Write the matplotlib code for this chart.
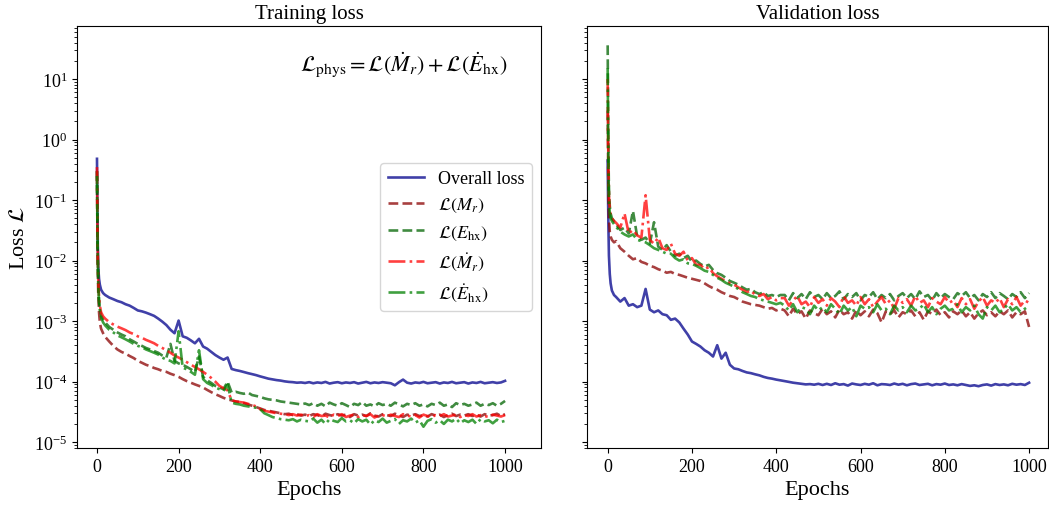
import matplotlib
matplotlib.use("Agg")
import matplotlib.pyplot as plt

plt.rcParams['font.family'] = ['Liberation Serif', 'DejaVu Serif']
plt.rcParams['mathtext.fontset'] = 'stix'

EPOCHS = [0, 1, 2, 3, 5, 7, 10, 15] + list(range(20, 1001, 10))

# ---- training losses ----
train_overall = [
    0.48, 0.06, 0.018, 8e-3, 5e-3, 4e-3, 3.3e-3, 2.9e-3,
    2.7e-3, 2.45e-3, 2.3e-3, 2.15e-3, 2.05e-3, 1.9e-3, 1.8e-3, 1.65e-3, 1.5e-3, 1.45e-3,
    1.38e-3, 1.3e-3, 1.22e-3, 1.1e-3, 9.8e-4, 8.6e-4, 7.2e-4, 6.3e-4, 1.02e-3, 5.6e-4,
    5.3e-4, 4.8e-4, 4.3e-4, 5.1e-4, 3.8e-4, 3.5e-4, 3.1e-4, 2.75e-4, 2.5e-4, 2.3e-4,
    2.5e-4, 1.62e-4, 1.55e-4, 1.5e-4, 1.44e-4, 1.38e-4, 1.33e-4, 1.28e-4, 1.22e-4, 1.17e-4,
    1.12e-4, 1.09e-4, 1.06e-4, 1.04e-4, 1.01e-4, 9.9e-5, 9.8e-5, 9.6e-5, 9.7e-5, 9.5e-5,
    9.8e-5, 9.4e-5, 9.7e-5, 9.5e-5, 9.9e-5, 9.3e-5, 9.6e-5, 9.8e-5, 9.4e-5, 9.7e-5,
    9.5e-5, 9.8e-5, 9.3e-5, 9.6e-5, 9.9e-5, 9.4e-5, 9.7e-5, 9.5e-5, 9.8e-5, 9.6e-5,
    9.4e-5, 8.7e-5, 9.8e-5, 1.08e-4, 9.6e-5, 9.3e-5, 9.7e-5, 9.5e-5, 9.9e-5, 9.4e-5,
    9.6e-5, 9.8e-5, 9.3e-5, 9.7e-5, 9.5e-5, 9.9e-5, 9.4e-5, 9.6e-5, 9.8e-5, 9.3e-5,
    9.7e-5, 9.5e-5, 9.9e-5, 9.4e-5, 9.6e-5, 9.8e-5, 9.5e-5, 9.7e-5, 1.03e-4,
]
train_mr = [
    0.3, 0.03, 8e-3, 3e-3, 1.4e-3, 9.5e-4, 7.5e-4, 6.3e-4,
    5.5e-4, 4.6e-4, 3.9e-4, 3.4e-4, 3.1e-4, 2.9e-4, 2.65e-4, 2.45e-4, 2.2e-4, 2.05e-4,
    1.9e-4, 1.8e-4, 1.68e-4, 1.6e-4, 1.5e-4, 1.45e-4, 1.35e-4, 1.28e-4, 1.2e-4, 1.1e-4,
    1.02e-4, 9.6e-5, 9.0e-5, 8.5e-5, 8.0e-5, 7.3e-5, 6.7e-5, 6.2e-5, 5.8e-5, 5.4e-5,
    5.1e-5, 4.9e-5, 4.7e-5, 4.6e-5, 4.4e-5, 4.2e-5, 4.0e-5, 3.8e-5, 3.6e-5, 3.4e-5,
    3.3e-5, 3.2e-5, 3.1e-5, 3.0e-5, 2.9e-5, 2.95e-5, 2.8e-5, 2.9e-5, 2.75e-5, 2.85e-5,
    2.7e-5, 2.9e-5, 2.8e-5, 2.65e-5, 2.95e-5, 2.8e-5, 2.7e-5, 2.9e-5, 2.75e-5, 2.85e-5,
    2.6e-5, 2.9e-5, 2.75e-5, 2.85e-5, 2.7e-5, 3.0e-5, 2.75e-5, 2.65e-5, 2.9e-5, 2.8e-5,
    2.7e-5, 2.95e-5, 2.8e-5, 2.6e-5, 2.85e-5, 2.75e-5, 2.9e-5, 2.7e-5, 2.8e-5, 2.65e-5,
    2.9e-5, 2.75e-5, 2.85e-5, 2.6e-5, 2.8e-5, 2.95e-5, 2.7e-5, 2.85e-5, 2.75e-5, 2.9e-5,
    2.7e-5, 2.85e-5, 2.65e-5, 2.9e-5, 2.75e-5, 2.8e-5, 2.95e-5, 2.7e-5, 2.9e-5,
]
train_ehx = [
    0.3, 0.04, 1.1e-2, 4.5e-3, 2.2e-3, 1.6e-3, 1.25e-3, 1.05e-3,
    9.5e-4, 8.0e-4, 7.2e-4, 6.5e-4, 6.0e-4, 5.6e-4, 5.0e-4, 4.6e-4, 4.2e-4, 3.9e-4,
    3.6e-4, 3.4e-4, 3.2e-4, 3.0e-4, 2.7e-4, 2.5e-4, 4.2e-4, 2.2e-4, 2.0e-4, 1.9e-4,
    1.75e-4, 1.6e-4, 1.45e-4, 2.6e-4, 1.2e-4, 1.05e-4, 9.5e-5, 8.5e-5, 8.0e-5, 7.5e-5,
    1.0e-4, 6.6e-5, 6.8e-5, 6.5e-5, 6.3e-5, 6.6e-5, 6.0e-5, 5.8e-5, 5.6e-5, 5.3e-5,
    5.1e-5, 5.0e-5, 4.9e-5, 4.7e-5, 4.6e-5, 4.5e-5, 4.4e-5, 4.3e-5, 4.2e-5, 4.35e-5,
    4.1e-5, 4.4e-5, 4.0e-5, 4.3e-5, 3.9e-5, 4.5e-5, 4.2e-5, 4.0e-5, 4.4e-5, 4.1e-5,
    3.8e-5, 4.3e-5, 4.1e-5, 4.6e-5, 4.0e-5, 4.2e-5, 3.9e-5, 4.4e-5, 4.1e-5, 4.3e-5,
    4.0e-5, 4.5e-5, 4.2e-5, 3.9e-5, 4.3e-5, 4.1e-5, 4.4e-5, 4.0e-5, 4.2e-5, 3.9e-5,
    4.3e-5, 4.1e-5, 4.5e-5, 4.0e-5, 4.2e-5, 3.8e-5, 4.4e-5, 4.1e-5, 4.3e-5, 4.0e-5,
    4.2e-5, 4.5e-5, 4.0e-5, 4.3e-5, 4.1e-5, 4.4e-5, 4.0e-5, 4.3e-5, 4.8e-5,
]
train_mr_dot = [
    0.35, 0.04, 1.2e-2, 5e-3, 2.5e-3, 1.8e-3, 1.4e-3, 1.2e-3,
    1.1e-3, 9.6e-4, 8.8e-4, 8.1e-4, 7.6e-4, 7.1e-4, 6.5e-4, 6.1e-4, 5.6e-4, 5.3e-4,
    4.9e-4, 4.6e-4, 4.3e-4, 3.9e-4, 3.6e-4, 3.3e-4, 3.0e-4, 2.7e-4, 2.5e-4, 2.3e-4,
    2.1e-4, 1.9e-4, 1.75e-4, 1.6e-4, 1.45e-4, 1.3e-4, 1.15e-4, 1.0e-4, 8.5e-5, 7.8e-5,
    7.2e-5, 4.9e-5, 4.7e-5, 4.6e-5, 4.5e-5, 4.3e-5, 4.1e-5, 3.9e-5, 3.5e-5, 3.3e-5,
    3.2e-5, 3.1e-5, 3.0e-5, 2.95e-5, 2.9e-5, 2.8e-5, 2.9e-5, 2.75e-5, 2.85e-5, 2.7e-5,
    2.8e-5, 2.6e-5, 2.9e-5, 2.7e-5, 2.75e-5, 2.55e-5, 2.85e-5, 2.7e-5, 2.9e-5, 2.6e-5,
    2.75e-5, 2.85e-5, 2.6e-5, 2.8e-5, 2.7e-5, 2.9e-5, 2.55e-5, 2.75e-5, 2.8e-5, 2.65e-5,
    2.85e-5, 2.7e-5, 2.6e-5, 2.9e-5, 2.75e-5, 2.65e-5, 2.8e-5, 2.55e-5, 2.85e-5, 2.7e-5,
    2.6e-5, 2.8e-5, 2.7e-5, 2.9e-5, 2.65e-5, 2.75e-5, 2.85e-5, 2.6e-5, 2.8e-5, 2.7e-5,
    2.9e-5, 2.65e-5, 2.8e-5, 2.7e-5, 2.6e-5, 2.85e-5, 2.75e-5, 2.65e-5, 2.8e-5,
]
train_ehx_dot = [
    0.25, 0.035, 1e-2, 4e-3, 2e-3, 1.5e-3, 1.15e-3, 9.5e-4,
    8.5e-4, 7.2e-4, 6.5e-4, 5.8e-4, 5.4e-4, 5.0e-4, 4.6e-4, 4.2e-4, 3.9e-4, 3.7e-4,
    3.4e-4, 3.2e-4, 3.0e-4, 2.8e-4, 2.5e-4, 2.3e-4, 2.2e-4, 2.0e-4, 6.8e-4, 1.7e-4,
    1.6e-4, 1.45e-4, 1.3e-4, 3.3e-4, 1.1e-4, 9.5e-5, 8.8e-5, 8.0e-5, 7.5e-5, 7.0e-5,
    9.0e-5, 4.5e-5, 4.3e-5, 4.2e-5, 4.0e-5, 3.9e-5, 3.8e-5, 3.7e-5, 3.5e-5, 3.0e-5,
    2.8e-5, 2.6e-5, 2.5e-5, 2.4e-5, 2.35e-5, 2.3e-5, 2.4e-5, 2.2e-5, 2.35e-5, 2.25e-5,
    2.2e-5, 2.45e-5, 2.1e-5, 2.35e-5, 2.0e-5, 2.4e-5, 2.25e-5, 2.15e-5, 2.5e-5, 2.2e-5,
    2.3e-5, 2.05e-5, 2.4e-5, 2.2e-5, 2.35e-5, 1.95e-5, 2.3e-5, 2.15e-5, 2.45e-5, 2.1e-5,
    2.25e-5, 2.4e-5, 2.0e-5, 2.3e-5, 2.2e-5, 2.45e-5, 2.1e-5, 2.3e-5, 1.8e-5, 2.25e-5,
    2.4e-5, 2.1e-5, 2.3e-5, 2.0e-5, 2.35e-5, 2.2e-5, 2.45e-5, 2.05e-5, 2.3e-5, 2.15e-5,
    2.35e-5, 2.0e-5, 2.4e-5, 2.2e-5, 2.3e-5, 2.05e-5, 2.35e-5, 2.15e-5, 2.25e-5,
]

# ---- validation losses ----
val_overall = [
    0.45, 0.1, 0.03, 1.2e-2, 6e-3, 4.2e-3, 3.2e-3, 2.7e-3,
    2.5e-3, 2.1e-3, 2.4e-3, 1.8e-3, 1.9e-3, 1.7e-3, 1.8e-3, 3.4e-3, 1.55e-3, 1.4e-3,
    1.5e-3, 1.3e-3, 1.25e-3, 1.05e-3, 1.1e-3, 9.5e-4, 7.5e-4, 6.0e-4, 4.6e-4, 4.2e-4,
    3.8e-4, 3.3e-4, 3.0e-4, 2.6e-4, 4.0e-4, 2.4e-4, 3.0e-4, 1.9e-4, 1.65e-4, 1.6e-4,
    1.5e-4, 1.42e-4, 1.38e-4, 1.32e-4, 1.27e-4, 1.2e-4, 1.15e-4, 1.12e-4, 1.08e-4, 1.05e-4,
    1.02e-4, 9.9e-5, 9.6e-5, 9.4e-5, 9.2e-5, 9.0e-5, 9.1e-5, 8.9e-5, 9.2e-5, 8.8e-5,
    9.2e-5, 8.8e-5, 9.4e-5, 8.9e-5, 9.1e-5, 8.6e-5, 9.3e-5, 9.0e-5, 8.8e-5, 9.2e-5,
    8.9e-5, 9.4e-5, 8.7e-5, 9.1e-5, 9.0e-5, 8.8e-5, 9.3e-5, 8.9e-5, 9.2e-5, 8.7e-5,
    9.1e-5, 9.3e-5, 8.8e-5, 9.0e-5, 9.2e-5, 8.7e-5, 9.1e-5, 8.9e-5, 9.3e-5, 8.8e-5,
    9.0e-5, 8.7e-5, 9.1e-5, 8.8e-5, 8.5e-5, 8.7e-5, 8.4e-5, 8.8e-5, 9.0e-5, 8.6e-5,
    9.1e-5, 8.8e-5, 9.0e-5, 8.7e-5, 9.2e-5, 8.9e-5, 9.1e-5, 8.8e-5, 9.6e-5,
]
val_mr = [
    3.0, 0.5, 0.1, 0.05, 0.03, 0.025, 0.022, 0.02,
    0.021, 0.016, 0.014, 0.012, 0.0105, 0.011, 0.0095, 0.009, 0.0082, 0.0078,
    0.0072, 0.0068, 0.0063, 0.0065, 0.006, 0.0058, 0.0055, 0.0052, 0.005, 0.0048,
    0.0046, 0.0042, 0.0038, 0.0035, 0.0033, 0.0030, 0.0028, 0.0026, 0.0025, 0.0023,
    0.0021, 0.0020, 0.0019, 0.00185, 0.0018, 0.0017, 0.0016, 0.00165, 0.0015, 0.0016,
    1.5e-3, 1.2e-3, 1.6e-3, 1.3e-3, 1.45e-3, 1.1e-3, 1.5e-3, 1.35e-3, 1.25e-3, 1.6e-3,
    1.3e-3, 1.45e-3, 1.15e-3, 1.55e-3, 1.3e-3, 1.4e-3, 1.1e-3, 1.5e-3, 1.25e-3, 1.45e-3,
    1.2e-3, 1.55e-3, 1.35e-3, 0.95e-3, 1.45e-3, 1.3e-3, 1.5e-3, 1.15e-3, 1.4e-3, 1.3e-3,
    1.5e-3, 1.2e-3, 1.4e-3, 1.05e-3, 1.45e-3, 1.3e-3, 1.55e-3, 1.25e-3, 1.4e-3, 1.15e-3,
    1.45e-3, 1.3e-3, 1.5e-3, 1.2e-3, 1.4e-3, 1.1e-3, 1.35e-3, 1.5e-3, 1.25e-3, 1.4e-3,
    1.2e-3, 1.45e-3, 1.3e-3, 1.5e-3, 1.15e-3, 1.4e-3, 1.3e-3, 1.45e-3, 0.8e-3,
]
val_ehx = [
    36.0, 3.0, 0.5, 0.15, 0.08, 0.06, 0.05, 0.045,
    0.04, 0.032, 0.035, 0.028, 0.066, 0.025, 0.022, 0.024, 0.019, 0.043,
    0.017, 0.015, 0.018, 0.014, 0.012, 0.013, 0.011, 0.012, 0.0095, 0.010,
    0.0088, 0.0080, 0.0085, 0.0070, 0.0062, 0.0058, 0.0052, 0.0046, 0.0043, 0.0040,
    0.0036, 0.0033, 0.0034, 0.0030, 0.0028, 0.0030, 0.0026, 0.0027, 0.0025, 0.0027,
    2.7e-3, 2.2e-3, 2.9e-3, 2.4e-3, 2.8e-3, 2.3e-3, 3.0e-3, 2.5e-3, 2.7e-3, 2.3e-3,
    2.9e-3, 2.4e-3, 2.6e-3, 3.1e-3, 2.3e-3, 2.8e-3, 2.5e-3, 2.9e-3, 2.2e-3, 2.7e-3,
    2.5e-3, 3.0e-3, 2.3e-3, 2.7e-3, 2.4e-3, 2.8e-3, 2.2e-3, 2.6e-3, 2.9e-3, 2.4e-3,
    2.8e-3, 2.3e-3, 3.1e-3, 2.5e-3, 2.7e-3, 2.2e-3, 2.9e-3, 2.4e-3, 2.8e-3, 2.5e-3,
    2.3e-3, 2.9e-3, 2.6e-3, 3.0e-3, 2.4e-3, 2.7e-3, 2.2e-3, 2.8e-3, 2.5e-3, 3.0e-3,
    2.4e-3, 2.9e-3, 2.6e-3, 2.3e-3, 2.8e-3, 2.5e-3, 3.0e-3, 2.4e-3, 2.9e-3,
]
val_mr_dot = [
    10.0, 1.0, 0.3, 0.12, 0.07, 0.055, 0.05, 0.045,
    0.042, 0.035, 0.06, 0.028, 0.032, 0.026, 0.024, 0.12, 0.022, 0.019,
    0.024, 0.016, 0.015, 0.019, 0.013, 0.012, 0.014, 0.010, 0.011, 0.0085,
    0.0085, 0.0072, 0.0078, 0.0062, 0.0055, 0.0050, 0.0046, 0.0042, 0.0040, 0.0036,
    0.0033, 0.0030, 0.0032, 0.0027, 0.0026, 0.0028, 0.0023, 0.0025, 0.0022, 0.0024,
    2.4e-3, 1.8e-3, 2.2e-3, 2.6e-3, 1.9e-3, 2.1e-3, 1.7e-3, 2.5e-3, 2.0e-3, 2.3e-3,
    1.8e-3, 2.4e-3, 2.1e-3, 1.7e-3, 2.6e-3, 2.0e-3, 2.2e-3, 1.8e-3, 2.5e-3, 1.9e-3,
    2.3e-3, 1.7e-3, 2.1e-3, 2.5e-3, 1.9e-3, 2.2e-3, 1.6e-3, 2.4e-3, 2.0e-3, 2.3e-3,
    1.8e-3, 2.6e-3, 2.0e-3, 2.2e-3, 1.7e-3, 2.4e-3, 2.1e-3, 1.9e-3, 2.5e-3, 2.0e-3,
    2.2e-3, 1.7e-3, 2.4e-3, 1.9e-3, 2.3e-3, 1.6e-3, 2.1e-3, 2.5e-3, 1.8e-3, 2.2e-3,
    2.0e-3, 2.4e-3, 1.7e-3, 2.3e-3, 1.9e-3, 2.5e-3, 1.8e-3, 2.2e-3, 2.0e-3,
]
val_ehx_dot = [
    15.0, 1.5, 0.3, 0.1, 0.06, 0.05, 0.045, 0.04,
    0.036, 0.03, 0.027, 0.025, 0.027, 0.022, 0.021, 0.02, 0.018, 0.016,
    0.015, 0.014, 0.013, 0.013, 0.011, 0.010, 0.0105, 0.009, 0.0088, 0.0082,
    0.0075, 0.0068, 0.0065, 0.0058, 0.0052, 0.0048, 0.0043, 0.0040, 0.0037, 0.0034,
    0.0030, 0.0028, 0.0026, 0.0025, 0.0023, 0.0022, 0.0021, 0.0020, 0.0019, 0.0020,
    1.8e-3, 1.5e-3, 1.9e-3, 1.4e-3, 1.7e-3, 1.6e-3, 1.3e-3, 1.8e-3, 1.5e-3, 1.7e-3,
    1.4e-3, 1.9e-3, 1.6e-3, 1.3e-3, 1.8e-3, 1.5e-3, 1.7e-3, 1.2e-3, 1.8e-3, 1.6e-3,
    1.7e-3, 1.4e-3, 1.9e-3, 1.5e-3, 1.6e-3, 1.3e-3, 1.8e-3, 1.5e-3, 1.7e-3, 1.4e-3,
    1.8e-3, 1.5e-3, 1.6e-3, 1.9e-3, 1.4e-3, 1.7e-3, 1.3e-3, 1.6e-3, 1.8e-3, 1.5e-3,
    1.6e-3, 1.9e-3, 1.4e-3, 1.7e-3, 1.5e-3, 1.8e-3, 1.3e-3, 1.1e-3, 1.7e-3, 1.5e-3,
    1.8e-3, 1.4e-3, 1.6e-3, 1.9e-3, 1.5e-3, 1.7e-3, 1.4e-3, 1.6e-3, 1.8e-3,
]

LABELS = ['Overall loss', r'$\mathcal{L}(M_r)$', r'$\mathcal{L}(E_{\rm hx})$',
          r'$\mathcal{L}(\dot{M}_r)$', r'$\mathcal{L}(\dot{E}_{\rm hx})$']
COLORS = ['darkblue', 'darkred', 'darkgreen', 'red', 'green']
STYLES = ['-', '--', '--', '-.', '-.']

train = [train_overall, train_mr, train_ehx, train_mr_dot, train_ehx_dot]
val = [val_overall, val_mr, val_ehx, val_mr_dot, val_ehx_dot]

fig = plt.figure(figsize=(10.49, 5.06), dpi=100)
ax1 = fig.add_axes([0.0734, 0.1126, 0.4423, 0.834])
ax2 = fig.add_axes([0.5596, 0.1126, 0.4395, 0.834], sharey=ax1)

for ax, series in ((ax1, train), (ax2, val)):
    for y, lab, c, ls in zip(series, LABELS, COLORS, STYLES):
        ax.plot(EPOCHS, y, ls, color=c, alpha=0.75, lw=1.9, label=lab)
    ax.set_yscale('log')
    ax.set_xlabel('Epochs', fontsize=16)
    ax.tick_params(labelsize=13)

ax1.set_ylim(8e-6, 75)
ax1.set_xlim(-49, 1088)
ax2.set_xlim(-49, 1045)
ax1.set_title('Training loss', fontsize=15)
ax2.set_title('Validation loss', fontsize=15)
ax1.set_ylabel(r'Loss $\mathcal{L}$', fontsize=16)
ax2.tick_params(labelleft=False)

ax1.text(0.927, 0.893,
         r'$\mathcal{L}_{\rm phys} = \mathcal{L}(\dot{M}_r) + \mathcal{L}(\dot{E}_{\rm hx})$',
         transform=ax1.transAxes, ha='right', va='baseline', fontsize=16)
leg = ax1.legend(loc='center right', fontsize=13)
leg.get_frame().set_linewidth(1.0)

fig.savefig('out.png', dpi=100)
